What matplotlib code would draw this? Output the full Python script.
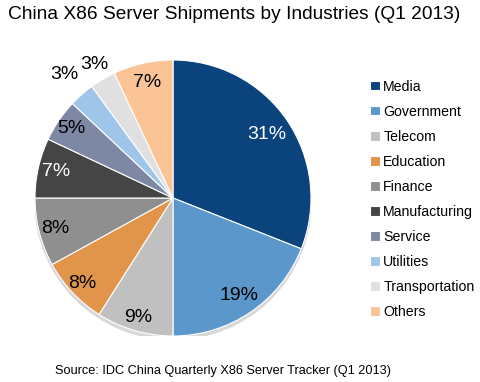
import numpy as np
import matplotlib.pyplot as plt
from matplotlib.patches import Circle

plt.rcParams['font.family'] = ['Liberation Sans', 'DejaVu Sans']

industries = ["Media", "Government", "Telecom", "Education", "Finance",
              "Manufacturing", "Service", "Utilities", "Transportation", "Others"]
shares = [31, 19, 9, 8, 8, 7, 5, 3, 3, 7]
colors = ["#0b437c", "#5b97cb", "#c0c0c0", "#e0954b", "#8f8f8f",
          "#454545", "#7e88a5", "#9fc5e8", "#e0e0e0", "#fac497"]
label_colors = ["white", "black", "black", "black", "black",
                "white", "black", "black", "black", "black"]
label_dist = [0.82, 0.85, 0.9, 0.9, 0.88, 0.87, 0.89, 1.19, 1.12, 0.86]

fig = plt.figure(figsize=(4.8, 3.82), dpi=100)
ax = fig.add_axes([0.0729, 0.1204, 0.575, 0.7225])

# faint shadow under the pie
ax.add_patch(Circle((0.0, -0.025), 1.0, color="#d8d8d8", zorder=0))

wedges, _ = ax.pie(shares, colors=colors, startangle=90, counterclock=False,
                   wedgeprops=dict(edgecolor="white", linewidth=0.8))
ax.set_xlim(-1, 1)
ax.set_ylim(-1, 1)
ax.set_aspect("auto")

for w, s, c, d in zip(wedges, shares, label_colors, label_dist):
    ang = np.deg2rad((w.theta1 + w.theta2) / 2)
    ax.text(d * np.cos(ang), d * np.sin(ang), f"{s}%", color=c,
            ha="center", va="center", fontsize=14)

fig.text(0.017, 0.963, "China X86 Server Shipments by Industries (Q1 2013)",
         fontsize=13.8, ha="left", va="center")
fig.text(0.115, 0.03, "Source: IDC China Quarterly X86 Server Tracker (Q1 2013)",
         fontsize=9.2, ha="left", va="center")

fig.legend(wedges, industries, loc="upper left", bbox_to_anchor=(0.757, 0.81),
           frameon=False, fontsize=10.2, handlelength=0.65, handleheight=0.65,
           handletextpad=0.25, labelspacing=0.78, borderpad=0)

fig.savefig("out.png", dpi=100)
